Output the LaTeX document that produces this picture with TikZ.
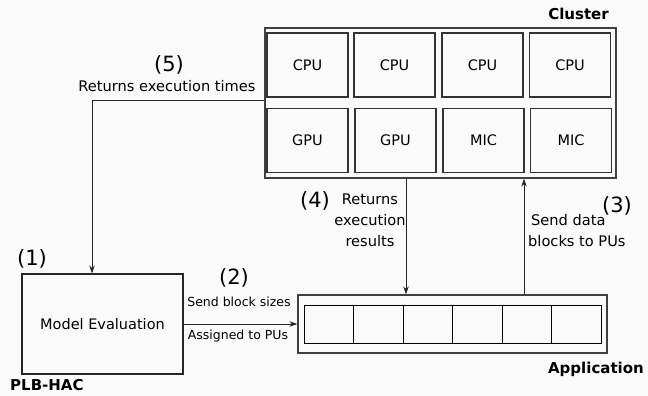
\documentclass[tikz,border=0pt]{standalone}
\usepackage{fontspec}
\setmainfont{DejaVu Sans}
\usetikzlibrary{arrows.meta}
\begin{document}
\begin{tikzpicture}[x=1pt,y=-1pt,
  outerbox/.style={draw=black!75,line width=1.3pt,inner sep=0pt},
  pubox/.style={draw=black!80,line width=1.1pt,minimum width=81pt,minimum height=64pt,inner sep=0pt,font=\fontsize{14.5}{16}\selectfont},
  cellbox/.style={draw=black,line width=0.9pt,minimum width=49.5pt,minimum height=38pt,inner sep=0pt},
  lbl/.style={font=\fontsize{14.6}{21}\selectfont,inner sep=0pt,align=center},
  slbl/.style={font=\fontsize{12.5}{16}\selectfont,inner sep=0pt},
  num/.style={font=\fontsize{21}{23}\selectfont,inner sep=0pt},
  ttl/.style={font=\bfseries\fontsize{15}{17}\selectfont,inner sep=0pt},
  arr/.style={draw=black!85,line width=0.9pt,-{Stealth[length=8pt,width=5.5pt]}}]
\fill[black!2] (0,0) rectangle (648,396);
\useasboundingbox (0,0) rectangle (648,396);
% cluster
\node[outerbox,minimum width=351pt,minimum height=150pt] (cluster) at (440.5,103) {};
\node[ttl,anchor=east] (clt) at (609,14) {Cluster};
\node[pubox] (c1) at (307.5,65) {CPU};
\node[pubox] (c2) at (394.5,65) {CPU};
\node[pubox] (c3) at (482.5,65) {CPU};
\node[pubox] (c4) at (570,65) {CPU};
\node[pubox] (g1) at (307.5,140.5) {GPU};
\node[pubox] (g2) at (395.5,140.5) {GPU};
\node[pubox] (m1) at (483.5,140.5) {MIC};
\node[pubox] (m2) at (571,140.5) {MIC};
% model evaluation
\node[draw=black!85,line width=1.1pt,minimum width=161pt,minimum height=100pt,inner sep=0pt,font=\fontsize{14.5}{16}\selectfont] (model) at (102.5,324) {Model Evaluation};
\node[ttl,anchor=west] (plb) at (10,385) {PLB-HAC};
\node[num] (n1) at (32,259) {(1)};
% application
\node[outerbox,minimum width=309pt,minimum height=58pt] (app) at (452.5,324) {};
\node[ttl,anchor=east] (appt) at (644,369) {Application};
\foreach \i in {0,...,5}{
  \node[cellbox] (cell\i) at ({329+49.5*\i},324) {};
}
% (5)
\coordinate (c5) at (92,100);
\draw[arr] (cluster.west |- 0,100) -- (c5) -- (model.north -| c5);
\node[num] (n5) at (169,65) {(5)};
\node[lbl] (l5) at (167,86) {Returns execution times};
% (2)
\draw[arr] (model.east) -- (app.west);
\node[num] (n2) at (234,278) {(2)};
\node[slbl] (l2a) at (239,302) {Send block sizes};
\node[slbl] (l2b) at (238,336) {Assigned to PUs};
% (4)
\coordinate (x4) at (406,0);
\draw[arr] (cluster.south -| x4) -- (app.north -| x4);
\node[num] (n4) at (315,201) {(4)};
\node[lbl,anchor=north] (l4) at (370,194) {Returns\\execution\\results};
% (3)
\coordinate (x3) at (524,0);
\draw[arr] (app.north -| x3) -- (cluster.south -| x3);
\node[num] (n3) at (617,206) {(3)};
\node[lbl,anchor=north west,align=left] (l3) at (528,214) {\hspace*{3pt}Send data\\blocks to PUs};
\end{tikzpicture}
\end{document}
